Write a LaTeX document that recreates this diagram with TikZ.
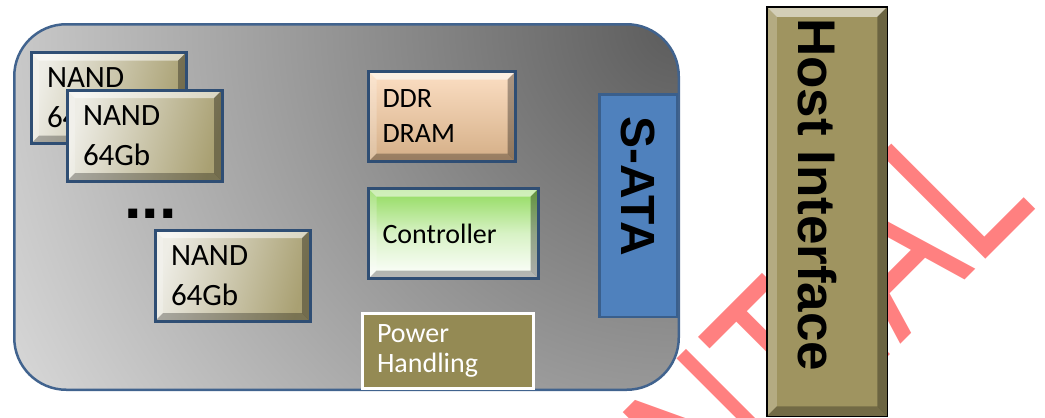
\documentclass[tikz,border=0pt]{standalone}
\usepackage{fontspec}
\setmainfont{Carlito}
\newfontfamily\arialfont{Liberation Sans}
\definecolor{wmred}{HTML}{FF8080}
\definecolor{ssdborder}{HTML}{41638E}
\definecolor{boxborder}{HTML}{2F4E74}
\definecolor{nandl}{HTML}{EEEDE6}
\definecolor{nandr}{HTML}{A9A072}
\definecolor{ddrt}{HTML}{FCDFC4}
\definecolor{ddrb}{HTML}{D4AE86}
\definecolor{ctrlt}{HTML}{8FDA5A}
\definecolor{powfill}{HTML}{948A54}
\definecolor{satafill}{HTML}{4F81BD}
\definecolor{sataborder}{HTML}{3A5F8C}
\definecolor{hostfill}{HTML}{9F9460}
\tikzset{
  bevel/.style={path picture={
    \path (path picture bounding box.north west) coordinate (q1)
          (path picture bounding box.north east) coordinate (q2)
          (path picture bounding box.south east) coordinate (q3)
          (path picture bounding box.south west) coordinate (q4);
    \fill[white,opacity=0.55] (q1) -- (q2) -- ([xshift=-#1,yshift=-#1]q2) -- ([xshift=#1,yshift=-#1]q1) -- cycle;
    \fill[white,opacity=0.22] (q1) -- (q4) -- ([xshift=#1,yshift=#1]q4) -- ([xshift=#1,yshift=-#1]q1) -- cycle;
    \fill[black,opacity=0.32] (q2) -- (q3) -- ([xshift=-#1,yshift=#1]q3) -- ([xshift=-#1,yshift=-#1]q2) -- cycle;
    \fill[black,opacity=0.28] (q4) -- (q3) -- ([xshift=-#1,yshift=#1]q3) -- ([xshift=#1,yshift=#1]q4) -- cycle;
  }},
  ssdbox/.style={draw=ssdborder, line width=2.5pt, rounded corners=52pt, fill=black!14,
    path picture={\shade[inner color=black!64, outer color=black!14]
      (path picture bounding box.north east) circle (780pt);},
    minimum width=664.5pt, minimum height=365.5pt, inner sep=0pt},
  nandbox/.style={draw=boxborder, line width=3pt, left color=nandl, right color=nandr,
    shading angle=75, bevel=8pt, minimum width=155pt, minimum height=91pt,
    text width=123pt, inner xsep=16pt, inner ysep=0pt, align=left,
    font=\fontsize{31}{40}\selectfont},
  rbox/.style={draw=boxborder, line width=3pt, bevel=8pt, minimum height=90pt,
    inner xsep=14pt, inner ysep=0pt, align=left, font=\fontsize{28}{35}\selectfont},
  powbox/.style={draw=white, line width=3pt, fill=powfill, text=white,
    minimum width=171pt, minimum height=75pt, text width=142pt, inner xsep=14.5pt,
    inner ysep=0pt, align=left, font=\fontsize{28}{30}\selectfont},
  satabox/.style={draw=sataborder, line width=2.5pt, fill=satafill, rotate=-90,
    minimum width=222.5pt, minimum height=77.5pt, text width=178.5pt, inner xsep=22pt,
    inner ysep=0pt, align=left, font=\arialfont\bfseries\fontsize{48}{48}\selectfont},
  hostbox/.style={draw=black, line width=1.5pt, fill=hostfill, bevel=10pt,
    minimum width=120.5pt, minimum height=409.5pt, inner sep=0pt,
    text height=0pt, text depth=387pt,
    font=\arialfont\bfseries\fontsize{53}{53}\selectfont},
}
\begin{document}
\begin{tikzpicture}[x=1pt,y=-1pt]
\useasboundingbox (0,0) rectangle (1045,418);
% watermark
\node[anchor=base east, rotate=45, inner sep=0pt, text=wmred] (wm) at (1039.6,205.4)
  {\scalebox{0.745}[1]{\arialfont\fontsize{215}{215}\selectfont CONFIDENTIAL}};
% main board
\node[ssdbox] (ssd) at (346.5,207) {};
% NAND chips
\node[nandbox] (nand1) at (108.5,98) {NAND\\64Gb};
\node[nandbox] (nand2) at (144.5,135.5) {NAND\\64Gb};
\node[anchor=base west, inner sep=0pt, font=\arialfont\bfseries\fontsize{63}{63}\selectfont] (dots) at (124,218) {...};
\node[nandbox] (nand3) at (232.5,275.5) {NAND\\64Gb};
% right column
\node[rbox, top color=ddrt, bottom color=ddrb, minimum width=147pt, text width=119pt] (ddr) at (442,116.5) {DDR\\DRAM};
\node[rbox, top color=ctrlt, bottom color=white, middle color=ctrlt!35, minimum width=170pt, text width=142pt] (ctrl) at (453.5,233.5) {Controller};
\node[powbox] (pow) at (448,351) {Power\\Handling};
\node[satabox] (sata) at (638,205.5) {S-ATA};
\node[hostbox] (host) at (827,211.5) {\rotatebox{-90}{Host Interface}\hspace*{19pt}};
\end{tikzpicture}
\end{document}
